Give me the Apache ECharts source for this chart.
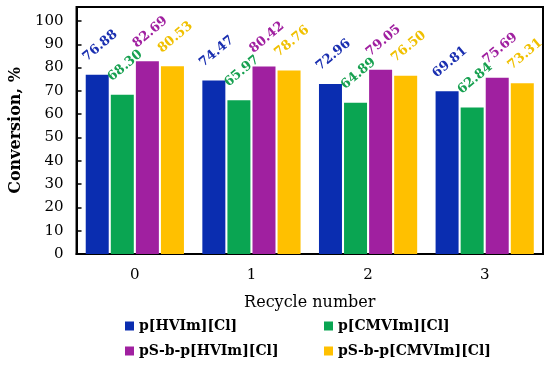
<!DOCTYPE html>
<html><head><meta charset="utf-8">
<script src="https://cdn.jsdelivr.net/npm/echarts@6/dist/echarts.min.js"></script>
<style>html,body{margin:0;padding:0;background:#fff}#c{width:550px;height:366px}</style>
</head><body><div id="c"></div>
<script>
var categories = ['0', '1', '2', '3'];
var legendNames = ['p[HVIm][Cl]', 'p[CMVIm][Cl]', 'pS\u2010b\u2010p[HVIm][Cl]', 'pS\u2010b\u2010p[CMVIm][Cl]'];
var valsHVIm = [76.88, 74.47, 72.96, 69.81];
var valsCMVIm = [68.30, 65.97, 64.89, 62.84];
var valsPSHVIm = [82.69, 80.42, 79.05, 75.69];
var valsPSCMVIm = [80.53, 78.76, 76.50, 73.31];
var colors = ['#0a2db0', '#0aa552', '#a020a0', '#ffc000'];
var labelColors = ['#1a2fb0', '#17a050', '#a020a0', '#f0c000'];
var font = 'DejaVu Serif';
var allVals = [valsHVIm, valsCMVIm, valsPSHVIm, valsPSCMVIm];

var series = allVals.map(function (v, i) {
  return {
    name: legendNames[i], type: 'bar', data: v,
    barWidth: 23, barGap: '9%',
    itemStyle: { color: colors[i] },
    label: {
      show: true, position: [3, -11], rotate: 40, align: 'left', verticalAlign: 'bottom',
      color: labelColors[i], fontFamily: font, fontSize: 13, fontWeight: 'bold',
      formatter: function (p) { return p.value.toFixed(2); }
    }
  };
});

var legendPos = [[120, 314], [319, 314], [120, 339], [319, 339]];
var legends = legendNames.map(function (n, i) {
  return {
    data: [n], left: legendPos[i][0], top: legendPos[i][1],
    icon: 'rect', itemWidth: 9, itemHeight: 9, itemGap: 4,
    textStyle: { fontFamily: font, fontSize: 14, color: '#000', fontWeight: 'bold' },
    selectedMode: false
  };
});

var chart = echarts.init(document.getElementById('c'));
chart.setOption({
  animation: false,
  color: colors,
  grid: { left: 73, right: 7, top: 7, bottom: 112, show: true, borderColor: '#000', borderWidth: 2, containLabel: false },
  legend: legends,
  xAxis: {
    type: 'category', data: categories,
    axisLine: { lineStyle: { color: '#000', width: 2 } },
    axisTick: { show: false },
    axisLabel: { color: '#000', fontFamily: font, fontSize: 15, margin: 14 },
    name: 'Recycle number', nameLocation: 'middle', nameGap: 41,
    nameTextStyle: { color: '#000', fontFamily: font, fontSize: 16 }
  },
  yAxis: {
    type: 'value', min: 0, max: 106, interval: 10,
    axisLine: { show: true, lineStyle: { color: '#000', width: 2 } },
    axisTick: { show: true, inside: true, length: 5, lineStyle: { color: '#000', width: 1.5 } },
    splitLine: { show: false },
    axisLabel: { color: '#000', fontFamily: font, fontSize: 15, margin: 13, showMaxLabel: false,
      formatter: function (v) { return v > 100 ? '' : String(v); } },
    name: 'Conversion, %', nameLocation: 'middle', nameGap: 45,
    nameTextStyle: { color: '#000', fontFamily: font, fontSize: 16, fontWeight: 'bold' }
  },
  series: series
});
</script></body></html>
